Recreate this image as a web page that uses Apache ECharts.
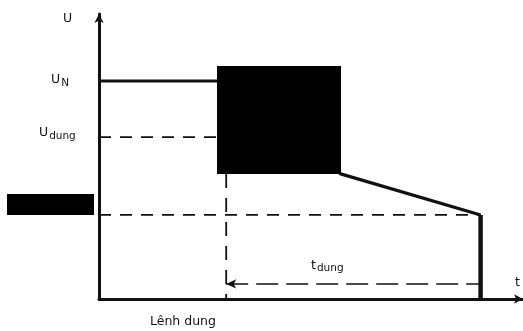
<!DOCTYPE html>
<html>
<head>
<meta charset="utf-8">
<script src="https://cdn.jsdelivr.net/npm/echarts@6/dist/echarts.min.js"></script>
<style>
  html, body { margin: 0; padding: 0; background: #fff; }
  #chart { width: 523px; height: 331px; }
</style>
</head>
<body>
<div id="chart"></div>
<script>
// Voltage levels (arbitrary units on the U axis)
const uNominal = 7.65;
const uStop = 5.68;
const uMin = 2.95;
// Time points (arbitrary units on the t axis)
const tCommand = 3.0;
const tKnee = 5.7;
const uKnee = 4.39;
const tEnd = 9.0;
const uArrow = 0.53;

// Voltage curve: nominal, braking ramp, then cut-off
const curveT = [0, tCommand, tKnee, tEnd];
const curveU = [uNominal, uNominal, uKnee, uMin];

const ink = '#111';
const chart = echarts.init(document.getElementById('chart'), null, { renderer: 'canvas' });

const dashed = { color: ink, width: 1.8, type: [12, 9] };
const mainFont = '12.5px "DejaVu Sans"';
const subFont = '10.5px "DejaVu Sans"';
const subRich = (pad) => ({
  a: { font: mainFont, fill: ink },
  s: { font: subFont, fill: ink, padding: [pad, 0, 0, 1] }
});

chart.setOption({
  animation: false,
  backgroundColor: '#fff',
  grid: { left: 99, top: 14, right: 0, bottom: 32, containLabel: false },
  xAxis: {
    type: 'value', min: 0, max: 10,
    axisLine: { show: true, lineStyle: { color: ink, width: 3 }, symbol: ['none', 'arrow'], symbolSize: [7, 9] },
    axisTick: { show: false }, axisLabel: { show: false }, splitLine: { show: false }
  },
  yAxis: {
    type: 'value', min: 0, max: 10,
    axisLine: { show: true, lineStyle: { color: ink, width: 3 }, symbol: ['none', 'arrow'], symbolSize: [7, 9] },
    axisTick: { show: false }, axisLabel: { show: false }, splitLine: { show: false }
  },
  series: [
    {
      type: 'line', symbol: 'none', z: 3,
      lineStyle: { color: ink, width: 3.2 },
      data: curveT.map((t, i) => [t, curveU[i]])
    },
    {
      type: 'line', symbol: 'none', z: 3,
      lineStyle: { color: ink, width: 4.5 },
      data: [[tEnd, uMin], [tEnd, 0]]
    },
    {
      type: 'line', symbol: 'none', z: 2,
      lineStyle: dashed,
      data: [[0, uStop], [tCommand, uStop]]
    },
    {
      type: 'line', symbol: 'none', z: 2,
      lineStyle: dashed,
      data: [[0, uMin], [tEnd, uMin]]
    },
    {
      type: 'line', symbol: 'none', z: 2,
      lineStyle: { color: ink, width: 1.8, type: [14, 10] },
      data: [[tCommand, uKnee], [tCommand, 0]],
      markLine: {
        silent: true,
        symbol: ['arrow', 'none'],
        symbolSize: [7, 10],
        label: { show: false },
        lineStyle: { color: ink, width: 1.5, type: [22, 8] },
        data: [[{ coord: [tCommand, uArrow] }, { coord: [tEnd, uArrow] }]]
      }
    }
  ],
  graphic: [
    { type: 'rect', shape: { x: 217, y: 66, width: 124, height: 108 }, style: { fill: '#000' }, z: 100 },
    { type: 'rect', shape: { x: 7, y: 194, width: 87, height: 21 }, style: { fill: '#000' }, z: 100 },
    { type: 'text', left: 63, top: 12, style: { text: 'U', font: mainFont, fill: ink } },
    { type: 'text', left: 51, top: 73, style: { text: '{a|U}{s|N}', rich: subRich(8) } },
    { type: 'text', left: 39, top: 126, style: { text: '{a|U}{s|dung}', rich: subRich(8) } },
    { type: 'text', left: 311, top: 259, style: { text: '{a|t}{s|dung}', rich: subRich(6) } },
    { type: 'text', left: 515, top: 276, style: { text: 't', font: mainFont, fill: ink } },
    { type: 'text', left: 150, top: 315, style: { text: 'Lênh dung', font: mainFont, fill: ink } }
  ]
});
</script>
</body>
</html>
